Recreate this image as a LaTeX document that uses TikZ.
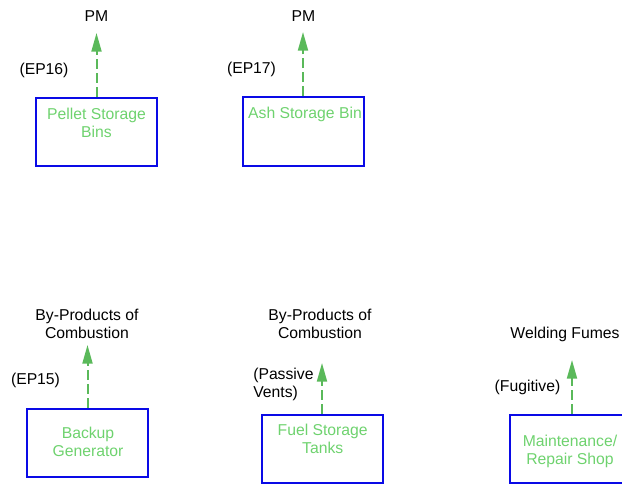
\documentclass[tikz,border=0pt]{standalone}
\usepackage{fontspec}
\setmainfont{Liberation Sans}
\usetikzlibrary{arrows.meta}
\definecolor{boxblue}{RGB}{10,10,230}
\definecolor{txtgreen}{RGB}{110,210,110}
\definecolor{arrgreen}{RGB}{90,185,90}
\begin{document}
\begin{tikzpicture}[x=0.75pt,y=-0.75pt,
  font=\fontsize{11.8}{13.5}\selectfont,
  box/.style={draw=boxblue,line width=1.5pt,inner sep=0pt,minimum width=90.75pt,minimum height=51.5pt},
  boxtext/.style={text=txtgreen,align=center,anchor=north,inner sep=0pt},
  lbl/.style={text=black,align=center,inner sep=0pt},
  emis/.style={draw=arrgreen,line width=1.5pt,dash pattern=on 7.5pt off 3pt,-{Triangle[length=14pt,width=7.5pt]}}
]
\useasboundingbox (0,0) rectangle (622,485);

% boxes
\node[box] (b1) at (96.5,132) {};
\node[box] (b2) at (303,131.5) {};
\node[box] (b3) at (87.5,443) {};
\node[box] (b4) at (322,449) {};
\node[box,minimum width=93pt] (b5) at (572,449) {};

% box texts
\node[boxtext] (t1) at (96.5,107.5) {Pellet Storage\\Bins};
\node[boxtext] (t2) at (305,106.5) {Ash Storage Bin};
\node[boxtext] (t3) at (88,427) {Backup\\Generator};
\node[boxtext] (t4) at (322.7,424) {Fuel Storage\\Tanks};
\node[boxtext] (t5) at (570,435) {Maintenance/\\Repair Shop};

% emission labels
\node[lbl] (e1) at (96.5,16) {PM};
\node[lbl] (e2) at (303.5,16) {PM};
\node[lbl] (e3) at (87,323.5) {By-Products of\\Combustion};
\node[lbl] (e4) at (320,323.5) {By-Products of\\Combustion};
\node[lbl] (e5) at (565,334) {Welding Fumes};

% point labels
\node[lbl] (p1) at (44,70) {(EP16)};
\node[lbl] (p2) at (251.5,69) {(EP17)};
\node[lbl] (p3) at (35.5,380) {(EP15)};
\node[lbl,align=left,anchor=west] (p4) at (253,384) {(Passive\\Vents)};
\node[lbl] (p5) at (527.5,387) {(Fugitive)};

% arrow tips
\coordinate (a1) at (96.5,33);
\coordinate (a2) at (303,32);
\coordinate (a3) at (87.5,345);
\coordinate (a4) at (322,363);
\coordinate (a5) at (572,360);

\draw[emis] (b1.north) -- (a1);
\draw[emis] (b2.north) -- (a2);
\draw[emis] (b3.north) -- (a3);
\draw[emis] (b4.north) -- (a4);
\draw[emis] (b5.north) -- (a5);
\end{tikzpicture}
\end{document}
